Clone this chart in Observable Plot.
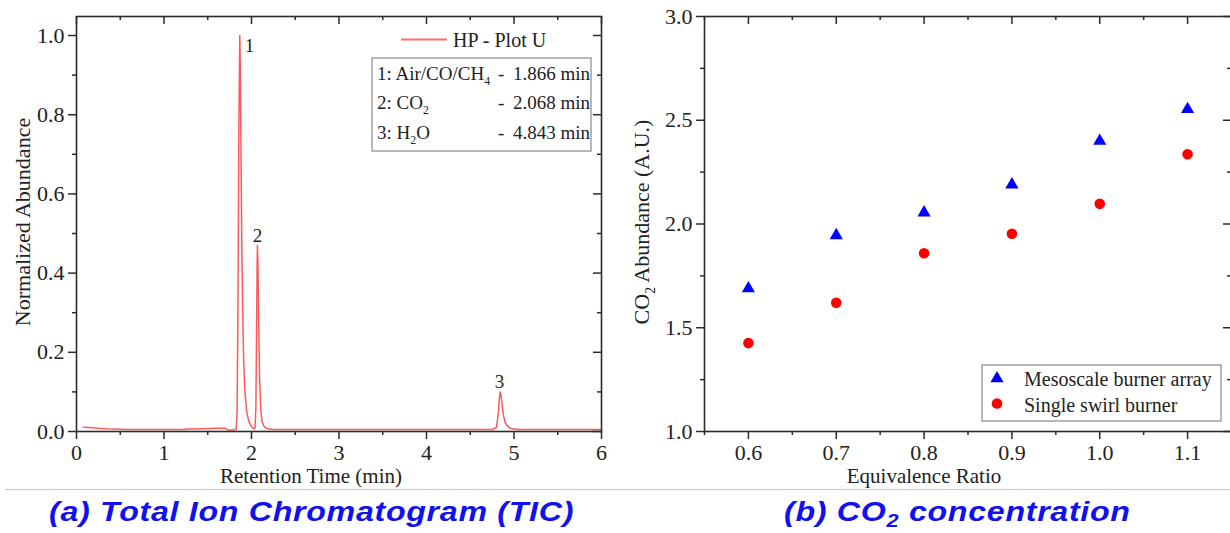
<!DOCTYPE html>
<html><head><meta charset="utf-8">
<script src="https://cdn.jsdelivr.net/npm/d3@7"></script>
<script src="https://cdn.jsdelivr.net/npm/@observablehq/plot@0.6"></script>
<style>
html,body{margin:0;padding:0;background:#fff;overflow:hidden}
#wrap{position:relative;width:1230px;height:533px;overflow:hidden;background:#fff}
#wrap > svg{position:absolute;top:0}
</style></head><body><div id="wrap"></div>
<script>
// ---------- Panel (a): chromatogram ----------
const retentionTime = [0.08,0.15,0.25,0.40,0.60,0.80,1.00,1.20,1.30,1.45,1.60,1.70,1.73,1.80,1.825,1.835,1.845,1.855,1.866,1.872,1.880,1.888,1.898,1.910,1.925,1.945,1.970,2.000,2.025,2.040,2.050,2.058,2.064,2.068,2.074,2.082,2.092,2.105,2.120,2.145,2.180,2.25,2.5,3.0,3.5,4.0,4.5,4.75,4.80,4.82,4.835,4.843,4.852,4.865,4.88,4.90,4.93,4.97,5.05,5.5,6.0];
const abundance = [0.011,0.010,0.008,0.006,0.005,0.005,0.005,0.005,0.006,0.007,0.008,0.008,0.004,0.004,0.006,0.05,0.30,0.75,1.000,0.92,0.70,0.50,0.32,0.18,0.10,0.05,0.025,0.012,0.007,0.008,0.06,0.25,0.42,0.470,0.42,0.28,0.14,0.06,0.025,0.012,0.007,0.005,0.005,0.005,0.005,0.005,0.005,0.005,0.010,0.045,0.090,0.100,0.092,0.065,0.040,0.022,0.012,0.007,0.005,0.005,0.005];
const peakIds = ["1","2","3"];
const peakLabelTime = [1.977,2.069,4.834];
const peakLabelAbundance = [0.975,0.495,0.126];
const seriesNameA = "HP - Plot U";
const peakCompounds = [["1: Air/CO/CH","4"],["2: CO","2"],["3: H","2","O"]];
const peakTimesText = ["1.866 min","2.068 min","4.843 min"];
const xMajorA = [0,1,2,3,4,5,6];
const xMinorA = [0.5,1.5,2.5,3.5,4.5,5.5];
const yMajorA = [0,0.2,0.4,0.6,0.8,1.0];
const yMinorA = [0.1,0.3,0.5,0.7,0.9];

// ---------- Panel (b): CO2 concentration ----------
const equivalenceRatio = [0.6,0.7,0.8,0.9,1.0,1.1];
const mesoscaleArray = [1.689,1.945,2.055,2.190,2.400,2.553];
const singleSwirl = [1.426,1.620,1.859,1.953,2.097,2.336];
const seriesNamesB = ["Mesoscale burner array","Single swirl burner"];
const xMajorB = [0.6,0.7,0.8,0.9,1.0,1.1];
const xMinorB = [0.55,0.65,0.75,0.85,0.95,1.05,1.15];
const yMajorB = [1.0,1.5,2.0,2.5,3.0];
const yMinorB = [1.25,1.75,2.25,2.75];

const chrom = retentionTime.map((t,i)=>({t, a: abundance[i]}));
const peaks = peakIds.map((id,i)=>({id, t: peakLabelTime[i], a: peakLabelAbundance[i]}));
const pts = [
  ...equivalenceRatio.map((r,i)=>({r, v: mesoscaleArray[i], s: seriesNamesB[0]})),
  ...equivalenceRatio.map((r,i)=>({r, v: singleSwirl[i], s: seriesNamesB[1]}))
];

const AX = "#2b2b2b";
const SERIF = "Liberation Serif, Times New Roman, serif";
const fmt1 = d3.format(".1f");
const blank = () => "";

// outward ticks on left/bottom; mirrored inward ticks on top/right (shifted by the plot size)
function axes(xMaj, xMin, yMaj, yMin, xfmt, yfmt, pw, ph) {
  const common = {stroke: AX, strokeWidth: 1.5, label: null};
  return [
    Plot.axisX({...common, ticks: xMaj, tickSize: 8, tickPadding: 5, tickFormat: xfmt, fontSize: 22, fill: "#222"}),
    Plot.axisX({...common, ticks: xMin, tickSize: 4, tickFormat: blank}),
    Plot.axisX({...common, ticks: xMaj, tickSize: 8, tickFormat: blank, dy: -ph}),
    Plot.axisX({...common, ticks: xMin, tickSize: 4, tickFormat: blank, dy: -ph}),
    Plot.axisY({...common, ticks: yMaj, tickSize: 8, tickPadding: 4, tickFormat: yfmt, fontSize: 22, fill: "#222"}),
    Plot.axisY({...common, ticks: yMin, tickSize: 4, tickFormat: blank}),
    Plot.axisY({...common, ticks: yMaj, tickSize: 8, tickFormat: blank, dx: pw}),
    Plot.axisY({...common, ticks: yMin, tickSize: 4, tickFormat: blank, dx: pw}),
    Plot.frame({stroke: AX, strokeWidth: 1.6})
  ];
}

const plotA = Plot.plot({
  width: 615, height: 488,
  marginLeft: 76, marginRight: 14, marginTop: 16, marginBottom: 57,
  style: {fontFamily: SERIF, fontSize: "22px", background: "transparent", color: "#222", overflow: "visible"},
  x: {domain: [0, 6]},
  y: {domain: [0, 1.048]},
  marks: [
    Plot.line(chrom, {x: "t", y: "a", stroke: "#ff5a5a", strokeWidth: 1.5}),
    Plot.text(peaks, {x: "t", y: "a", text: "id", fontSize: 19, fill: "#222"}),
    ...axes(xMajorA, xMinorA, yMajorA, yMinorA, d => String(d), fmt1, 615 - 76 - 14, 488 - 16 - 57)
  ]
});

const plotB = Plot.plot({
  width: 616, height: 488,
  marginLeft: 89, marginRight: 0, marginTop: 16, marginBottom: 57,
  style: {fontFamily: SERIF, fontSize: "22px", background: "transparent", color: "#222", overflow: "visible"},
  x: {domain: [0.55, 1.15]},
  y: {domain: [1, 3]},
  symbol: {domain: seriesNamesB, range: ["triangle", "circle"]},
  color: {domain: seriesNamesB, range: ["#0000ff", "#ff0000"]},
  marks: [
    Plot.dot(pts.filter(d => d.s === seriesNamesB[0]), {x: "r", y: "v", symbol: "s", fill: "s", r: 4.9}),
    Plot.dot(pts.filter(d => d.s === seriesNamesB[1]), {x: "r", y: "v", symbol: "s", fill: "s", r: 5.3}),
    ...axes(xMajorB, xMinorB, yMajorB, yMinorB, fmt1, fmt1, 616 - 89, 488 - 16 - 57)
  ]
});

const wrap = document.getElementById("wrap");
plotA.style.left = "0px";
plotB.style.left = "615px";
wrap.appendChild(plotA);
wrap.appendChild(plotB);

// ---------- text helpers ----------
function addText(svg, x, y, parts, opts = {}) {
  const size = opts.size || 22;
  const t = d3.select(svg).append("text")
    .attr("x", x).attr("y", y)
    .attr("font-family", SERIF)
    .attr("font-size", size)
    .attr("fill", opts.fill || "#222")
    .attr("text-anchor", opts.anchor || "start");
  if (opts.rotate) t.attr("transform", `rotate(-90 ${x} ${y})`).attr("dy", "0.35em");
  if (!Array.isArray(parts)) parts = [parts];
  const shift = size * 0.28;
  parts.forEach((s, i) => {
    const ts = t.append("tspan").text(s);
    if (i % 2 === 1) ts.attr("font-size", size * 0.62).attr("dy", shift);
    else if (i > 0) ts.attr("dy", -shift);
  });
  return t;
}
addText(plotA, 311, 483, "Retention Time (min)", {anchor: "middle", size: 21});
addText(plotA, 22, 222, "Normalized Abundance", {anchor: "middle", rotate: true});
addText(plotB, 309, 483, "Equivalence Ratio", {anchor: "middle", size: 21});
addText(plotB, 26, 222, ["CO", "2", " Abundance (A.U.)"], {anchor: "middle", rotate: true});

// ---------- legend (a) ----------
const gA = d3.select(plotA).append("g");
gA.append("line").attr("x1", 401).attr("x2", 447).attr("y1", 39.5).attr("y2", 39.5)
  .attr("stroke", "#ff6a6a").attr("stroke-width", 2);
addText(plotA, 453, 47, seriesNameA, {size: 20});
gA.append("rect").attr("x", 372).attr("y", 58).attr("width", 219).attr("height", 93)
  .attr("fill", "#fff").attr("stroke", "#a0a0a0").attr("stroke-width", 1.5);
const rowY = [80, 109, 139];
peakCompounds.forEach((c, i) => {
  addText(plotA, 377, rowY[i], c, {size: 19});
  addText(plotA, 498, rowY[i], "-", {size: 19});
  addText(plotA, 513, rowY[i], peakTimesText[i], {size: 19});
});

// ---------- legend (b) ----------
const gB = d3.select(plotB).append("g");
gB.append("rect").attr("x", 367).attr("y", 365).attr("width", 239).attr("height", 56)
  .attr("fill", "#fff").attr("stroke", "#a0a0a0").attr("stroke-width", 1.5);
gB.append("path").attr("d", d3.symbol(d3.symbolTriangle, Math.PI * 4.9 * 4.9)())
  .attr("transform", "translate(382,378.5)").attr("fill", "#0000ff");
gB.append("circle").attr("cx", 382).attr("cy", 403.5).attr("r", 5.3).attr("fill", "#ff0000");
addText(plotB, 409, 386, seriesNamesB[0], {size: 20});
addText(plotB, 409, 411.5, seriesNamesB[1], {size: 20});

// ---------- separator & captions ----------
const cap = d3.select(wrap).append("svg").attr("width", 1230).attr("height", 533)
  .style("left", "0px").style("pointer-events", "none");
cap.append("line").attr("x1", 5).attr("x2", 1230).attr("y1", 489.5).attr("y2", 489.5)
  .attr("stroke", "#c8c8c8").attr("stroke-width", 1.2);
function caption(x, parts) {
  const t = cap.append("text").attr("x", 0).attr("y", 521.5)
    .attr("transform", `translate(${x},0) scale(1.15,1)`)
    .attr("font-family", "Liberation Sans, Arial, sans-serif")
    .attr("font-weight", "bold").attr("font-style", "italic")
    .attr("font-size", 28).attr("letter-spacing", "0.6px")
    .attr("fill", "#1010f0");
  parts.forEach((s, i) => {
    const ts = t.append("tspan").text(s);
    if (i % 2 === 1) ts.attr("font-size", 19).attr("dy", 6);
    else if (i > 0) ts.attr("dy", -6);
  });
}
caption(49, ["(a) Total Ion Chromatogram (TIC)"]);
caption(784, ["(b) CO", "2", " concentration"]);
</script></body></html>
